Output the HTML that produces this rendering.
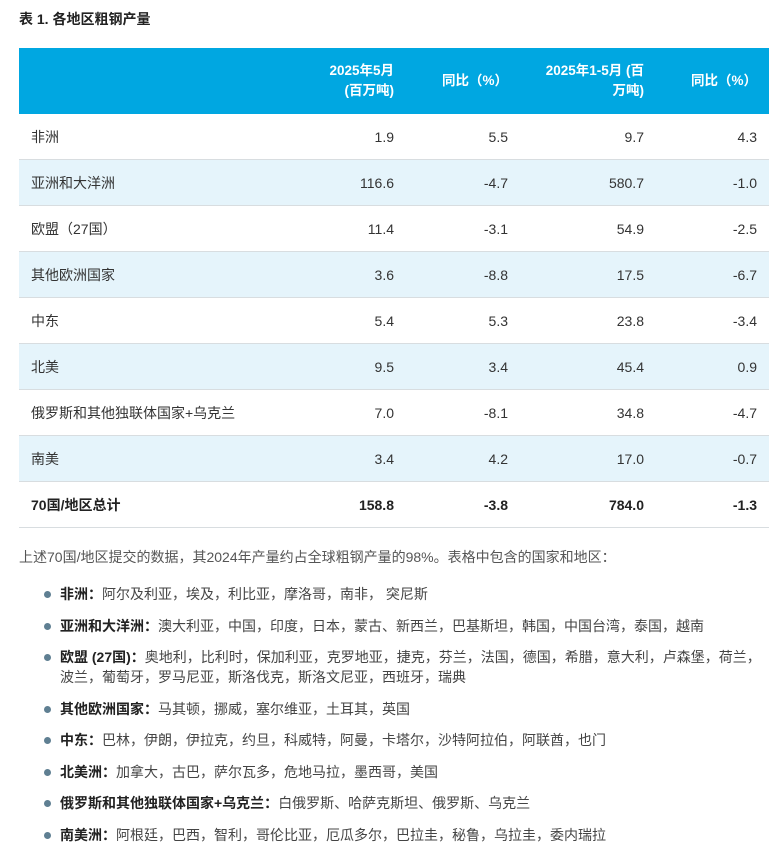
<!DOCTYPE html>
<html><head><meta charset="utf-8"><style>
body{margin:0;background:#fff;font-family:"Liberation Sans","Noto Sans CJK SC",sans-serif;color:#333;font-size:14px;width:778px;height:844px;overflow:hidden;position:relative}
h1{position:absolute;left:19px;top:9px;margin:0;font-size:14px;font-weight:bold;color:#222}
table{position:absolute;left:19px;top:48px;width:750px;border-collapse:collapse;table-layout:fixed}
th{background:#00a7e1;color:#fff;font-weight:bold;height:66px;text-align:right;padding:0 12px;line-height:20px;font-size:13.5px}
td{height:45px;border-bottom:1px solid #d8dde0;padding:0 12px;text-align:right;font-size:14px}
td:first-child{text-align:left}
tr.b td{background:#e5f4fb}
tr.t td{font-weight:bold;color:#222}
.p{position:absolute;left:19px;top:547px;color:#555;white-space:nowrap}
ul{position:absolute;left:0;top:584px;margin:0;padding:0;list-style:none;width:770px}
li{position:relative;padding-left:60px;line-height:20px;margin-bottom:11.5px;color:#444}
li:before{content:"";position:absolute;left:44px;top:7px;width:7px;height:7px;border-radius:50%;background:#5f7f92}
b{color:#222}
</style></head><body>
<h1>表 1. 各地区粗钢产量</h1>
<table>
<colgroup><col style="width:270px"><col style="width:117px"><col style="width:114px"><col style="width:136px"><col style="width:113px"></colgroup>
<tr><th></th><th>2025年5月<br>(百万吨)</th><th>同比（%）</th><th>2025年1-5月 (百<br>万吨)</th><th>同比（%）</th></tr>
<tr><td>非洲</td><td>1.9</td><td>5.5</td><td>9.7</td><td>4.3</td></tr>
<tr class="b"><td>亚洲和大洋洲</td><td>116.6</td><td>-4.7</td><td>580.7</td><td>-1.0</td></tr>
<tr><td>欧盟（27国）</td><td>11.4</td><td>-3.1</td><td>54.9</td><td>-2.5</td></tr>
<tr class="b"><td>其他欧洲国家</td><td>3.6</td><td>-8.8</td><td>17.5</td><td>-6.7</td></tr>
<tr><td>中东</td><td>5.4</td><td>5.3</td><td>23.8</td><td>-3.4</td></tr>
<tr class="b"><td>北美</td><td>9.5</td><td>3.4</td><td>45.4</td><td>0.9</td></tr>
<tr><td>俄罗斯和其他独联体国家+乌克兰</td><td>7.0</td><td>-8.1</td><td>34.8</td><td>-4.7</td></tr>
<tr class="b"><td>南美</td><td>3.4</td><td>4.2</td><td>17.0</td><td>-0.7</td></tr>
<tr class="t"><td>70国/地区总计</td><td>158.8</td><td>-3.8</td><td>784.0</td><td>-1.3</td></tr>
</table>
<div class="p">上述70国/地区提交的数据，其2024年产量约占全球粗钢产量的98%。表格中包含的国家和地区：</div>
<ul>
<li><b>非洲：</b>阿尔及利亚，埃及，利比亚，摩洛哥，南非， 突尼斯</li>
<li><b>亚洲和大洋洲：</b>澳大利亚，中国，印度，日本，蒙古、新西兰，巴基斯坦，韩国，中国台湾，泰国，越南</li>
<li><b>欧盟 (27国)：</b>奥地利，比利时，保加利亚，克罗地亚，捷克，芬兰，法国，德国，希腊，意大利，卢森堡，荷兰，<br>波兰，葡萄牙，罗马尼亚，斯洛伐克，斯洛文尼亚，西班牙，瑞典</li>
<li><b>其他欧洲国家：</b>马其顿，挪威，塞尔维亚，土耳其，英国</li>
<li><b>中东：</b>巴林，伊朗，伊拉克，约旦，科威特，阿曼，卡塔尔，沙特阿拉伯，阿联酋，也门</li>
<li><b>北美洲：</b>加拿大，古巴，萨尔瓦多，危地马拉，墨西哥，美国</li>
<li><b>俄罗斯和其他独联体国家+乌克兰：</b>白俄罗斯、哈萨克斯坦、俄罗斯、乌克兰</li>
<li><b>南美洲：</b>阿根廷，巴西，智利，哥伦比亚，厄瓜多尔，巴拉圭，秘鲁，乌拉圭，委内瑞拉</li>
</ul>
</body></html>
